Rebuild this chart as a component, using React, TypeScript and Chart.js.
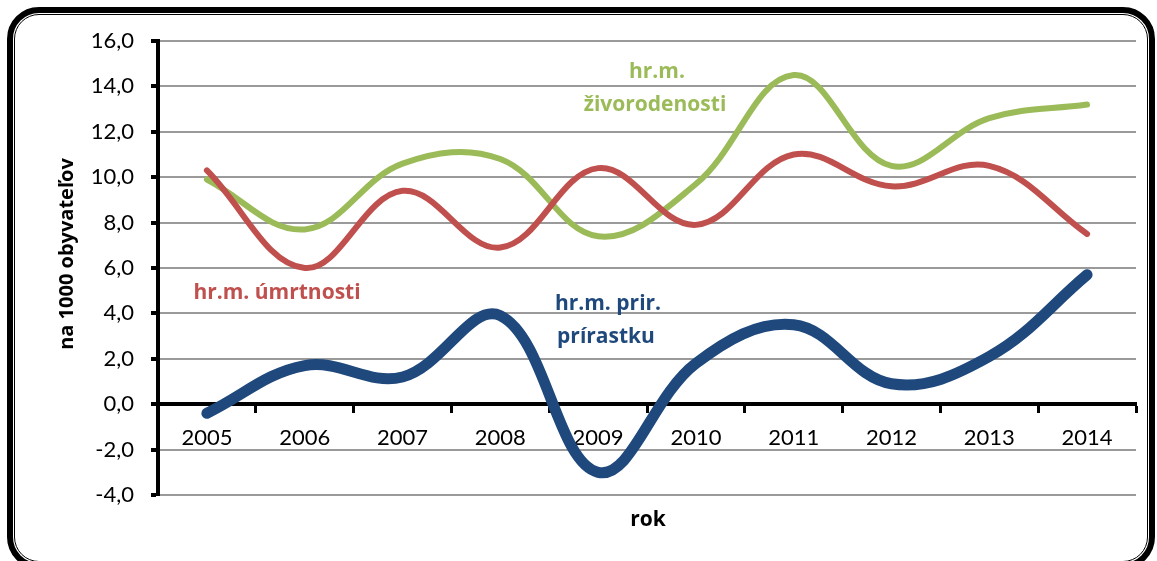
import React, { useEffect, useRef } from 'react';
import { Chart, registerables } from 'chart.js';

Chart.register(...registerables);

const years = ['2005', '2006', '2007', '2008', '2009', '2010', '2011', '2012', '2013', '2014'];
const zivorodenost = [9.9, 7.7, 10.6, 10.8, 7.4, 9.7, 14.5, 10.5, 12.6, 13.2];
const umrtnost = [10.3, 6.0, 9.4, 6.9, 10.4, 7.9, 11.0, 9.6, 10.5, 7.5];
const prirastok = [-0.4, 1.7, 1.2, 3.9, -3.0, 1.8, 3.5, 0.9, 2.1, 5.7];
const yMin = -4;
const yMax = 16;
const yStep = 2;

const GREEN = '#9BBB59';
const RED = '#C0504D';
const BLUE = '#1F497D';
const FONT = 'Lato, "Open Sans", sans-serif';
const BOLD_FONT = '"Open Sans", Lato, sans-serif';

export default function App() {
  const canvasRef = useRef<HTMLCanvasElement | null>(null);

  useEffect(() => {
    document.body.style.margin = '0';
    document.body.style.overflow = 'hidden';
    const canvas = canvasRef.current;
    if (!canvas) return;
    const chart = new Chart(canvas, {
      type: 'line',
      data: {
        labels: years,
        datasets: [
          {
            label: 'hr.m. prir. prírastku',
            data: prirastok,
            borderColor: BLUE,
            borderWidth: 11,
            tension: 0.38,
            pointRadius: 0,
            borderCapStyle: 'round',
            borderJoinStyle: 'round',
            fill: false,
          },
          {
            label: 'hr.m. úmrtnosti',
            data: umrtnost,
            borderColor: RED,
            borderWidth: 6,
            tension: 0.38,
            pointRadius: 0,
            borderCapStyle: 'round',
            borderJoinStyle: 'round',
            fill: false,
          },
          {
            label: 'hr.m. živorodenosti',
            data: zivorodenost,
            borderColor: GREEN,
            borderWidth: 6,
            tension: 0.38,
            pointRadius: 0,
            borderCapStyle: 'round',
            borderJoinStyle: 'round',
            fill: false,
          },
        ],
      },
      options: {
        animation: false,
        responsive: false,
        maintainAspectRatio: false,
        layout: { padding: { left: 0, top: 41, right: 21, bottom: 66 } },
        plugins: {
          legend: { display: false },
          tooltip: { enabled: false },
          title: { display: false },
        },
        scales: {
          x: {
            type: 'category',
            position: { y: 0 } as any,
            offset: true,
            grid: {
              display: true,
              drawOnChartArea: false,
              drawTicks: true,
              offset: true,
              tickLength: 7,
              tickWidth: 3,
              tickColor: '#000',
            },
            border: { display: true, color: '#000', width: 4 },
            ticks: {
              color: '#000',
              font: { family: FONT, size: 22 },
              padding: 14,
              maxRotation: 0,
              autoSkip: false,
            },
          },
          y: {
            type: 'linear',
            position: 'left',
            min: yMin,
            max: yMax,
            afterFit: (s: any) => {
              s.width = 158;
            },
            grid: {
              color: '#9a9a9a',
              lineWidth: 2,
              drawTicks: true,
              tickLength: 7,
              tickWidth: 4,
              tickColor: '#000',
            },
            border: { display: true, color: '#000', width: 4 },
            ticks: {
              stepSize: yStep,
              color: '#000',
              font: { family: FONT, size: 22 },
              padding: 17,
              callback: (v: any) => Number(v).toFixed(1).replace('.', ','),
            },
          },
        },
      },
    });
    return () => chart.destroy();
  }, []);

  const label = (text: string, color: string, cx: number, cy: number, size = 21) => (
    <div
      style={{
        position: 'absolute',
        left: cx - 150,
        top: cy - 15,
        width: 300,
        height: 30,
        lineHeight: '30px',
        textAlign: 'center',
        color,
        fontFamily: BOLD_FONT,
        fontWeight: 700,
        fontSize: size,
        whiteSpace: 'nowrap',
      }}
    >
      {text}
    </div>
  );

  return (
    <div style={{ position: 'relative', width: 1157, height: 561, overflow: 'hidden', background: '#fff' }}>
      <div
        style={{
          position: 'absolute',
          left: 7,
          top: 7,
          width: 1148,
          height: 562,
          boxSizing: 'border-box',
          border: '6px solid #000',
          borderRadius: 32,
        }}
      >
        <div
          style={{
            position: 'absolute',
            left: 1,
            top: 1,
            right: 1,
            bottom: 1,
            border: '1.5px solid #000',
            borderRadius: 25,
          }}
        />
      </div>
      <canvas
        ref={canvasRef}
        width={1157}
        height={561}
        style={{ position: 'absolute', left: 0, top: 0, width: 1157, height: 561 }}
      />
      <div
        style={{
          position: 'absolute',
          left: 66 - 150,
          top: 254 - 15,
          width: 300,
          height: 30,
          lineHeight: '30px',
          textAlign: 'center',
          fontFamily: BOLD_FONT,
          fontWeight: 700,
          fontSize: 20,
          color: '#000',
          transform: 'rotate(-90deg)',
          whiteSpace: 'nowrap',
        }}
      >
        na 1000 obyvateľov
      </div>
      {label('rok', '#000', 648, 518)}
      {label('hr.m.', GREEN, 657, 70)}
      {label('živorodenosti', GREEN, 655, 103)}
      {label('hr.m. úmrtnosti', RED, 277, 291)}
      {label('hr.m. prir.', BLUE, 608, 302)}
      {label('prírastku', BLUE, 606, 335)}
    </div>
  );
}
